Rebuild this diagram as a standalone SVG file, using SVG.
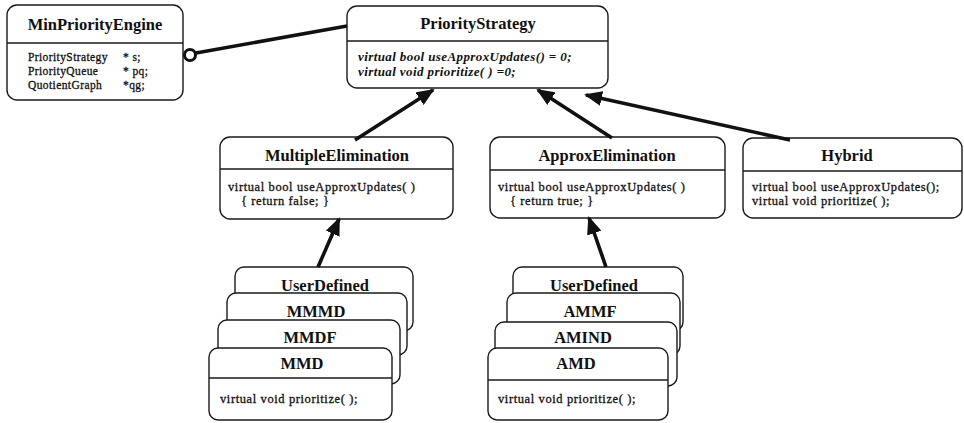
<svg xmlns="http://www.w3.org/2000/svg" width="964" height="423" viewBox="0 0 964 423">
  <style>
    .box { fill: #fff; stroke: #1a1a1a; stroke-width: 1.4; }
    .sep { stroke: #1a1a1a; stroke-width: 1.4; }
    .title { font-family: "Liberation Serif", "Times New Roman", serif; font-weight: bold; font-size: 16.5px; fill: #111; text-anchor: middle; }
    .body { font-family: "Liberation Serif", "Times New Roman", serif; font-size: 12.5px; letter-spacing: 0.6px; fill: #111; stroke: #111; stroke-width: 0.3; }
    .small { font-size: 11.5px; letter-spacing: 0.4px; }
    .abstract { font-family: "Liberation Serif", "Times New Roman", serif; font-size: 13px; letter-spacing: 0.4px; font-weight: bold; font-style: italic; fill: #111; }
    .edge { stroke: #111; stroke-width: 3.6; fill: none; }
  </style>
  <defs>
    <marker id="inherit" markerUnits="userSpaceOnUse" markerWidth="19" markerHeight="15" refX="16" refY="7.5" orient="auto">
      <path d="M0,0 L18,7.5 L0,15 z" fill="#111"/>
    </marker>
  </defs>

  <rect x="0" y="0" width="964" height="423" fill="#fff"/>

  <!-- Engine that owns a strategy -->
  <g id="MinPriorityEngine">
    <rect class="box" x="7" y="5" width="176" height="95" rx="10"/>
    <line class="sep" x1="7" y1="43" x2="183" y2="43"/>
    <text class="title" x="95" y="30">MinPriorityEngine</text>
    <text class="body small" x="28" y="61">PriorityStrategy</text>
    <text class="body small" x="123" y="61">* s;</text>
    <text class="body small" x="28" y="75">PriorityQueue</text>
    <text class="body small" x="123" y="75">* pq;</text>
    <text class="body small" x="28" y="89">QuotientGraph</text>
    <text class="body small" x="123" y="89">*qg;</text>
  </g>

  <!-- Abstract strategy -->
  <g id="PriorityStrategy">
    <rect class="box" x="347" y="6" width="261" height="82" rx="10"/>
    <line class="sep" x1="347" y1="41" x2="608" y2="41"/>
    <text class="title" x="478" y="29">PriorityStrategy</text>
    <text class="abstract" x="358" y="61">virtual bool useApproxUpdates() = 0;</text>
    <text class="abstract" x="358" y="75.5">virtual void prioritize( ) =0;</text>
  </g>

  <g id="MultipleElimination">
    <rect class="box" x="220" y="137" width="233" height="82" rx="10"/>
    <line class="sep" x1="220" y1="169" x2="453" y2="169"/>
    <text class="title" x="337" y="161">MultipleElimination</text>
    <text class="body" x="228" y="191">virtual bool useApproxUpdates( )</text>
    <text class="body" x="241" y="205">{ return false; }</text>
  </g>

  <g id="ApproxElimination">
    <rect class="box" x="490" y="137" width="235" height="81" rx="10"/>
    <line class="sep" x1="490" y1="170" x2="725" y2="170"/>
    <text class="title" x="607" y="161">ApproxElimination</text>
    <text class="body" x="498" y="191">virtual bool useApproxUpdates( )</text>
    <text class="body" x="510" y="205">{ return true; }</text>
  </g>

  <g id="Hybrid">
    <rect class="box" x="743" y="138" width="219" height="80" rx="10"/>
    <line class="sep" x1="743" y1="171" x2="962" y2="171"/>
    <text class="title" x="847" y="161">Hybrid</text>
    <text class="body" x="752" y="191">virtual bool useApproxUpdates();</text>
    <text class="body" x="752" y="205">virtual void prioritize( );</text>
  </g>

  <!-- Concrete strategies derived from MultipleElimination -->
  <g id="UserDefinedMultiple">
    <rect class="box" x="235" y="267" width="178" height="64" rx="9"/>
    <text class="title" x="325" y="291">UserDefined</text>
  </g>
  <g id="MMMD">
    <rect class="box" x="227" y="293" width="180" height="62" rx="9"/>
    <text class="title" x="316" y="317">MMMD</text>
  </g>
  <g id="MMDF">
    <rect class="box" x="218" y="320" width="182" height="64" rx="9"/>
    <text class="title" x="310" y="343">MMDF</text>
  </g>
  <g id="MMD">
    <rect class="box" x="209" y="348" width="183" height="72" rx="9"/>
    <line class="sep" x1="209" y1="378" x2="392" y2="378"/>
    <text class="title" x="302" y="369">MMD</text>
    <text class="body" x="220" y="403">virtual void prioritize( );</text>
  </g>

  <!-- Concrete strategies derived from ApproxElimination -->
  <g id="UserDefinedApprox">
    <rect class="box" x="513" y="267" width="170" height="64" rx="9"/>
    <text class="title" x="594" y="291">UserDefined</text>
  </g>
  <g id="AMMF">
    <rect class="box" x="507" y="293" width="173" height="62" rx="9"/>
    <text class="title" x="590" y="317">AMMF</text>
  </g>
  <g id="AMIND">
    <rect class="box" x="495" y="322" width="182" height="64" rx="9"/>
    <text class="title" x="583" y="343">AMIND</text>
  </g>
  <g id="AMD">
    <rect class="box" x="488" y="348" width="180" height="72" rx="9"/>
    <line class="sep" x1="488" y1="380" x2="668" y2="380"/>
    <text class="title" x="576" y="369">AMD</text>
    <text class="body" x="498" y="403">virtual void prioritize( );</text>
  </g>

  <!-- Connectors -->
  <g id="connectors">
    <line class="edge" x1="196" y1="53" x2="347" y2="26"/>
    <circle cx="190" cy="55" r="5.5" fill="#fff" stroke="#111" stroke-width="3"/>
    <line class="edge" x1="355" y1="140" x2="433" y2="90" marker-end="url(#inherit)"/>
    <line class="edge" x1="612" y1="138" x2="538" y2="90" marker-end="url(#inherit)"/>
    <line class="edge" x1="790" y1="140" x2="586" y2="95" marker-end="url(#inherit)"/>
    <line class="edge" x1="318" y1="267" x2="339" y2="219" marker-end="url(#inherit)"/>
    <line class="edge" x1="606" y1="267" x2="589" y2="218" marker-end="url(#inherit)"/>
  </g>
</svg>
